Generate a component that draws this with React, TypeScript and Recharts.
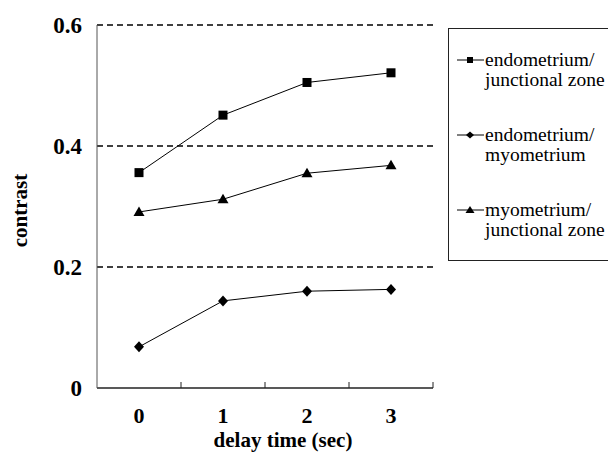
import { LineChart, Line, XAxis, YAxis, CartesianGrid } from 'recharts';

const delays = [0, 1, 2, 3];
const endoJunctional = [0.356, 0.451, 0.505, 0.521];
const endoMyometrium = [0.068, 0.144, 0.16, 0.163];
const myoJunctional = [0.291, 0.312, 0.355, 0.368];
const yTicks = [0, 0.2, 0.4, 0.6];
const gridValues = [0.2, 0.4, 0.6];
const xTickMarks = [0.5, 1.5, 2.5, 3.5];

const data = delays.map((d, i) => ({
  delay: d,
  endoJZ: endoJunctional[i],
  endoMyo: endoMyometrium[i],
  myoJZ: myoJunctional[i],
}));

const FONT = "'Liberation Serif', 'Times New Roman', serif";

const SquareDot = (props: any) => {
  const { cx, cy, index } = props;
  if (cx == null || cy == null) return null;
  return <rect key={`sq-${index}`} x={cx - 4.5} y={cy - 4.5} width={9} height={9} fill="#000" />;
};

const DiamondDot = (props: any) => {
  const { cx, cy, index } = props;
  if (cx == null || cy == null) return null;
  return (
    <polygon
      key={`dm-${index}`}
      points={`${cx},${cy - 5.5} ${cx + 5},${cy} ${cx},${cy + 5.5} ${cx - 5},${cy}`}
      fill="#000"
    />
  );
};

const TriangleDot = (props: any) => {
  const { cx, cy, index } = props;
  if (cx == null || cy == null) return null;
  return (
    <polygon
      key={`tr-${index}`}
      points={`${cx},${cy - 5.5} ${cx + 5.5},${cy + 4} ${cx - 5.5},${cy + 4}`}
      fill="#000"
    />
  );
};

// small inward tick drawn at the position recharts gives for each minor tick
const InwardTick = (props: any) => {
  const { x, y } = props;
  return <line x1={x} y1={y} x2={x} y2={y - 6} stroke="#222" strokeWidth={1} />;
};

const XTitle = ({ viewBox }: any) => (
  <text
    x={viewBox.x + viewBox.width / 2 + 18}
    y={viewBox.y + viewBox.height - 17}
    textAnchor="middle"
    fontFamily={FONT}
    fontWeight="bold"
    fontSize={21}
    fill="#000"
  >
    delay time (sec)
  </text>
);

const YTitle = ({ viewBox }: any) => {
  const x = viewBox.x + 27;
  const y = viewBox.y + viewBox.height / 2 + 4;
  return (
    <text
      x={x}
      y={y}
      transform={`rotate(-90, ${x}, ${y})`}
      textAnchor="middle"
      fontFamily={FONT}
      fontWeight="bold"
      fontSize={21}
      fill="#000"
    >
      contrast
    </text>
  );
};

const legendItems = [
  { lines: ['endometrium/', 'junctional zone'], shape: 'square' },
  { lines: ['endometrium/', 'myometrium'], shape: 'diamond' },
  { lines: ['myometrium/', 'junctional zone'], shape: 'triangle' },
];

function LegendIcon({ shape }: { shape: string }) {
  return (
    <svg width={27} height={12} style={{ flex: 'none', marginTop: 4 }}>
      <line x1={0} y1={6} x2={27} y2={6} stroke="#000" strokeWidth={1} />
      {shape === 'square' && <rect x={10} y={3} width={6} height={6} fill="#000" />}
      {shape === 'diamond' && <polygon points="13,2.5 17,6 13,9.5 9,6" fill="#000" />}
      {shape === 'triangle' && <polygon points="13,2 17.5,9 8.5,9" fill="#000" />}
    </svg>
  );
}

export default function App() {
  return (
    <div
      style={{
        position: 'absolute',
        left: 0,
        top: 0,
        width: 608,
        height: 464,
        overflow: 'hidden',
        background: '#fff',
      }}
    >
      <LineChart
        width={608}
        height={464}
        data={data}
        margin={{ top: 25, right: 175, left: 0, bottom: 0 }}
        style={{ fontFamily: FONT }}
      >
        <CartesianGrid
          xAxisId="b"
          vertical={false}
          horizontalValues={gridValues}
          stroke="#000"
          strokeWidth={1.4}
          strokeDasharray="6 4"
        />
        <XAxis
          xAxisId="b"
          dataKey="delay"
          type="number"
          domain={[-0.5, 3.5]}
          ticks={delays}
          tickLine={false}
          tickSize={0}
          tickMargin={18}
          height={75}
          axisLine={false}
          tick={{ fill: '#000', fontSize: 22, fontWeight: 'bold', fontFamily: FONT }}
          label={<XTitle />}
        />
        <XAxis
          xAxisId="a"
          dataKey="delay"
          type="number"
          domain={[-0.5, 3.5]}
          ticks={xTickMarks}
          tick={<InwardTick />}
          tickLine={false}
          tickSize={0}
          tickMargin={0}
          axisLine={{ stroke: '#222', strokeWidth: 1.5 }}
          height={1}
        />
        <YAxis
          domain={[0, 0.6]}
          ticks={yTicks}
          width={97}
          tickLine={false}
          tickSize={0}
          tickMargin={15}
          axisLine={{ stroke: '#555', strokeWidth: 1 }}
          tickFormatter={(v: number) => (v === 0 ? '0' : v.toFixed(1))}
          tick={{ fill: '#000', fontSize: 23, fontWeight: 'bold', fontFamily: FONT }}
          label={<YTitle />}
        />
        <Line
          xAxisId="b"
          dataKey="endoJZ"
          stroke="#000"
          strokeWidth={1}
          dot={<SquareDot />}
          activeDot={false}
          isAnimationActive={false}
        />
        <Line
          xAxisId="b"
          dataKey="endoMyo"
          stroke="#000"
          strokeWidth={1}
          dot={<DiamondDot />}
          activeDot={false}
          isAnimationActive={false}
        />
        <Line
          xAxisId="b"
          dataKey="myoJZ"
          stroke="#000"
          strokeWidth={1}
          dot={<TriangleDot />}
          activeDot={false}
          isAnimationActive={false}
        />
      </LineChart>
      <div
        style={{
          position: 'absolute',
          left: 448,
          top: 28,
          width: 166,
          height: 233,
          boxSizing: 'border-box',
          border: '1.5px solid #222',
          paddingTop: 21,
          paddingLeft: 8,
          fontFamily: FONT,
          fontSize: 19.5,
          lineHeight: '20px',
          color: '#000',
        }}
      >
        {legendItems.map((item, i) => (
          <div key={i} style={{ display: 'flex', alignItems: 'flex-start', height: 40, marginBottom: 35 }}>
            <LegendIcon shape={item.shape} />
            <div style={{ marginLeft: 1, whiteSpace: 'nowrap' }}>
              {item.lines.map((t) => (
                <div key={t}>{t}</div>
              ))}
            </div>
          </div>
        ))}
      </div>
    </div>
  );
}
